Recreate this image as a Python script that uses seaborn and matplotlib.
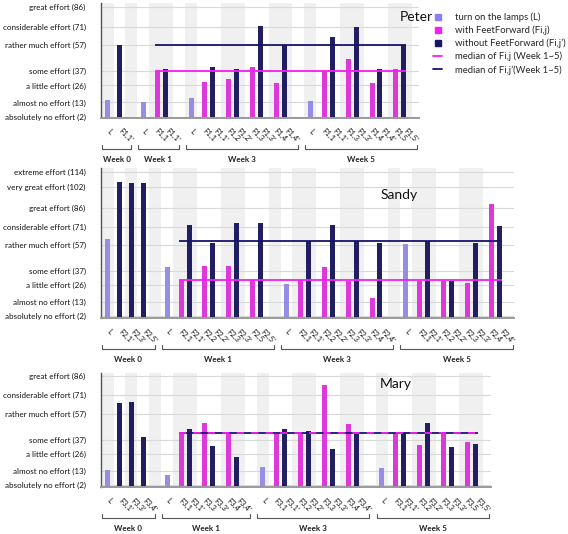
import numpy as np
import pandas as pd
import matplotlib
matplotlib.use("Agg")
import matplotlib.pyplot as plt
import matplotlib.transforms as mtransforms
from matplotlib.lines import Line2D
import seaborn as sns

# ---------------- data ----------------
WEEKS = ["Week 0", "Week 1", "Week 3", "Week 5"]

PETER_LABELS = [
    ["L", "F1,1'"],
    ["L", "F1,1", "F1,1'"],
    ["L", "F1,1", "F1,1'", "F1,2", "F1,2'", "F1,3", "F1,3'", "F1,4", "F1,4'"],
    ["L", "F1,1", "F1,1'", "F1,3", "F1,3'", "F1,4", "F1,4'", "F1,5", "F1,5'"],
]
PETER_VALUES = [
    [15, 57],
    [13, 37, 39],
    [16, 29, 40, 31, 39, 40, 72, 28, 57],
    [14, 37, 63, 46, 71, 28, 39, 39, 57],
]

SANDY_LABELS = [
    ["L", "F2,1'", "F2,3'", "F2,5'"],
    ["L", "F2,1", "F2,1'", "F2,2", "F2,2'", "F2,3", "F2,3'", "F2,5", "F2,5'"],
    ["L", "F2,1", "F2,1'", "F2,2", "F2,2'", "F2,3", "F2,3'", "F2,4", "F2,4'"],
    ["L", "F2,1", "F2,1'", "F2,2", "F2,2'", "F2,3", "F2,3'", "F2,4", "F2,4'"],
]
SANDY_VALUES = [
    [62, 106, 105, 105],
    [40, 30, 73, 41, 59, 41, 74, 30, 74],
    [27, 30, 60, 40, 73, 29, 60, 16, 59],
    [58, 29, 60, 29, 29, 28, 59, 89, 72],
]

MARY_LABELS = [
    ["L", "F3,1'", "F3,3'", "F3,4'"],
    ["L", "F3,1", "F3,1'", "F3,3", "F3,3'", "F3,4", "F3,4'"],
    ["L", "F3,1", "F3,1'", "F3,2", "F3,2'", "F3,3", "F3,3'", "F3,4", "F3,4'"],
    ["L", "F3,1", "F3,1'", "F3,2", "F3,2'", "F3,3", "F3,3'", "F3,5", "F3,5'"],
]
MARY_VALUES = [
    [14, 65, 66, 39],
    [10, 42, 45, 50, 32, 41, 24],
    [16, 41, 45, 42, 44, 79, 30, 49, 42],
    [15, 42, 42, 33, 50, 42, 31, 35, 34],
]

EFFORT_TICKS = [2, 13, 26, 37, 57, 71, 86, 102, 114]
EFFORT_NAMES = ["absolutely no effort", "almost no effort", "a little effort",
                "some effort", "rather much effort", "considerable effort",
                "great effort", "very great effort", "extreme effort"]

LEGEND_TEXT = ["turn on the lamps (L)", "with FeetForward (Fi,j)",
               "without FeetForward (Fi,j\u2019)", "median of Fi,j (Week 1~5)",
               "median of Fi,j\u2019(Week 1~5)"]

# ---------------- style ----------------
sns.set_style("white")
plt.rcParams["font.family"] = ["Lato", "DejaVu Sans"]

C_L = "#8b7ff2"
C_WITH = "#f81cf5"
C_WITHOUT = "#17146c"
C_BAND = "#eff0ef"
C_GRID = "#d8dad8"
PALETTE = {"L": C_L, "with": C_WITH, "without": C_WITHOUT}

W, H = 568, 534
SLOT = 11.93  # px per slot
fig = plt.figure(figsize=(W / 100, H / 100), dpi=100)


def build(labels_by_week, values_by_week):
    units, rows, spans = [], [], []
    x = 0.0
    for wi, (labs, vals) in enumerate(zip(labels_by_week, values_by_week)):
        if wi > 0:
            units.append((x, 1.0))
            x += 1.0
        wstart = x
        i = 0
        while i < len(labs):
            lab = labs[i]
            if (lab != "L" and not lab.endswith("'") and i + 1 < len(labs)
                    and labs[i + 1] == lab + "'"):
                c = x + 1.0
                rows.append((lab, c - 1 / 3, c - 0.45, vals[i], "with", wi))
                rows.append((labs[i + 1], c + 1 / 3, c + 0.45, vals[i + 1], "without", wi))
                units.append((x, 2.0))
                x += 2.0
                i += 2
            else:
                kind = "L" if lab == "L" else ("without" if lab.endswith("'") else "with")
                rows.append((lab, x + 0.5, x + 0.5, vals[i], kind, wi))
                units.append((x, 1.0))
                x += 1.0
                i += 1
        spans.append((wstart, x))
    df = pd.DataFrame(rows, columns=["label", "pos", "tick", "value", "kind", "week"])
    return df, units, spans, x


def panel(labels, values, top_px, bot_px, ylim, nticks, name, title_px):
    df, units, spans, total = build(labels, values)
    right_pad = 0.6
    width_px = (total + right_pad + 0.05) * SLOT
    left_px = 101
    h_px = bot_px - top_px
    ax = fig.add_axes([left_px / W, 1 - bot_px / H, width_px / W, h_px / H])

    for k, (s, w) in enumerate(units):
        if k % 2 == 0:
            ax.axvspan(s, s + w, color=C_BAND, lw=0, zorder=0)

    sns.barplot(data=df, x="pos", y="value", hue="kind", native_scale=True,
                dodge=False, palette=PALETTE, hue_order=["L", "with", "without"],
                width=0.63, errorbar=None, legend=False, ax=ax, zorder=2,
                linewidth=0)

    # medians over Week 1~5
    sub = df[df["week"] >= 1]
    bw = 0.63 * (2 / 3) / 2
    x0 = sub[sub["kind"] != "L"]["pos"].min() - bw
    x1 = sub["pos"].max() + bw
    m_with = np.median(sub[sub["kind"] == "with"]["value"])
    m_without = np.median(sub[sub["kind"] == "without"]["value"])
    ax.hlines(m_without, x0, x1, color=C_WITHOUT, lw=1.3, zorder=4)
    if abs(m_with - m_without) < 1e-9:
        ax.hlines(m_with, x0, x1, color=C_WITH, lw=1.3, zorder=5,
                  linestyles=(0, (4, 4)))
    else:
        ax.hlines(m_with, x0, x1, color=C_WITH, lw=1.3, zorder=5)

    ax.set_xlim(-0.05, total + right_pad)
    ax.set_ylim(*ylim)
    ticks = EFFORT_TICKS[:nticks]
    ax.set_yticks(ticks)
    ax.set_yticklabels([f"{n} ({t})" for n, t in zip(EFFORT_NAMES[:nticks], ticks)])
    ax.set_xticks(df["tick"].tolist())
    ax.set_xticklabels(df["label"].tolist(), rotation=-45, ha="left",
                       va="center", rotation_mode="anchor")
    ax.set_xlabel("")
    ax.set_ylabel("")
    ax.yaxis.grid(True, color=C_GRID, lw=0.8)
    ax.xaxis.grid(False)
    ax.set_axisbelow(True)
    for s in ["top", "right"]:
        ax.spines[s].set_visible(False)
    ax.spines["left"].set_color("#555555")
    ax.spines["left"].set_linewidth(1.0)
    ax.spines["bottom"].set_color("#9a9a9a")
    ax.spines["bottom"].set_linewidth(1.4)
    ax.tick_params(axis="y", length=9, width=0.8, color=C_GRID, pad=2,
                   labelsize=5.8, labelcolor="#111111")
    ax.tick_params(axis="x", length=2, width=0.6, color="#999999", pad=7,
                   labelsize=5.6, labelcolor="#111111")

    # week brackets
    tr = mtransforms.blended_transform_factory(ax.transData, ax.transAxes)
    yb = -31 / h_px
    ye = -27 / h_px
    yt = -41.5 / h_px
    for (s, e), wk in zip(spans, WEEKS):
        a, b = s + 0.05, e + 0.45
        ax.plot([a, a, b, b], [ye, yb, yb, ye], transform=tr, color="#555555",
                lw=0.8, clip_on=False)
        ax.text((a + b) / 2, yt, wk, transform=tr, ha="center", va="center",
                fontsize=5.8, fontweight="bold", color="#222222")

    fig.text(title_px[0] / W, 1 - title_px[1] / H, name, ha="center",
             va="center", fontsize=10, color="#111111")
    return ax


panel(PETER_LABELS, PETER_VALUES, 3, 117.5, (1.4, 89.3), 7, "Peter", (416, 17))
panel(SANDY_LABELS, SANDY_VALUES, 168, 318, (0.5, 116.9), 9, "Sandy", (399, 195))
panel(MARY_LABELS, MARY_VALUES, 373, 487, (0.7, 88.1), 7, "Mary", (395.5, 384))

handles = [
    Line2D([], [], marker="s", ls="none", color=C_L, markersize=4),
    Line2D([], [], marker="s", ls="none", color=C_WITH, markersize=4),
    Line2D([], [], marker="s", ls="none", color=C_WITHOUT, markersize=4),
    Line2D([], [], color=C_WITH, lw=1.3),
    Line2D([], [], color=C_WITHOUT, lw=1.3),
]
fig.legend(handles, LEGEND_TEXT, loc="upper left",
           bbox_to_anchor=(433 / W, 1 - 12.5 / H), frameon=False, fontsize=6.8,
           handlelength=1.0, handletextpad=1.3, labelspacing=0.38,
           borderaxespad=0, borderpad=0)

fig.savefig("out.png", dpi=100)
